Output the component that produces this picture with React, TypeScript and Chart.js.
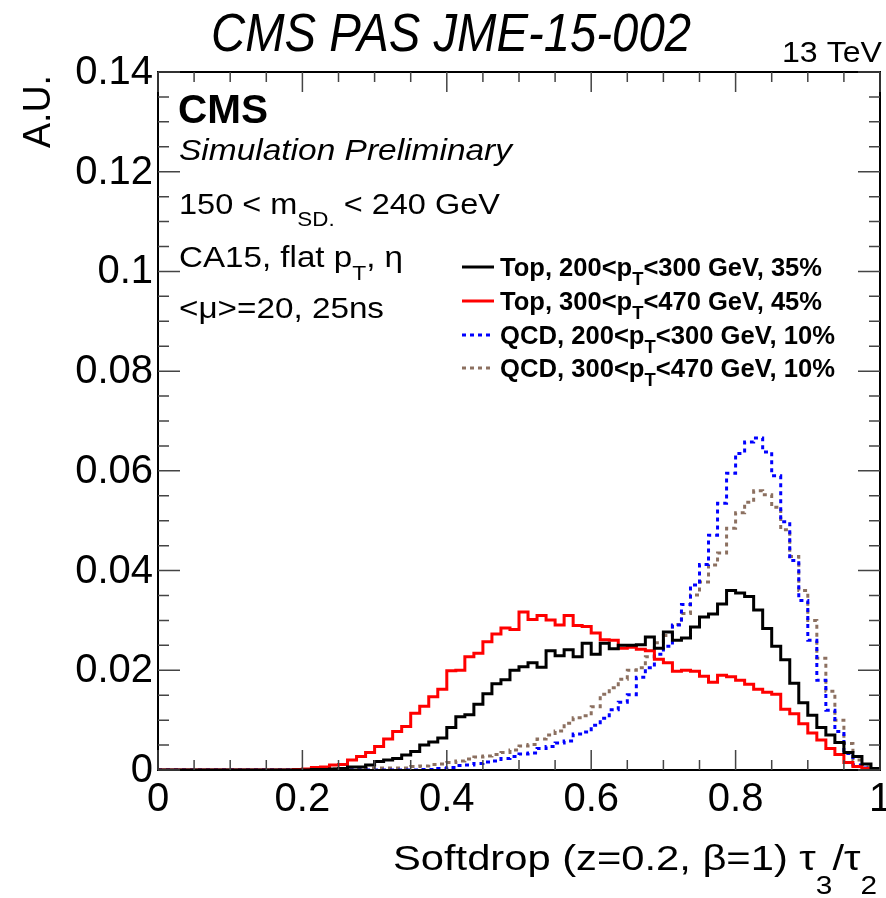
import React, { useEffect, useRef } from 'react';
import { Chart, registerables } from 'chart.js';

Chart.register(...registerables);

// 80 bins of width 0.0125 on [0, 1]
const BIN_WIDTH = 0.0125;

const topLowPt = [
  0, 0, 0, 0, 0, 0, 0, 0, 0, 0,
  0, 0, 0, 0, 0, 0, 0, 0.0001, 0.0001, 0.0002,
  0.0003, 0.0006, 0.0006, 0.001, 0.0017, 0.002, 0.0023, 0.003, 0.0037, 0.005,
  0.0056, 0.0064, 0.0085, 0.0107, 0.0111, 0.0132, 0.0153, 0.0173, 0.0181, 0.02,
  0.0207, 0.0215, 0.0206, 0.0239, 0.0229, 0.0241, 0.0227, 0.0254, 0.0232, 0.0254,
  0.0243, 0.025, 0.025, 0.0251, 0.0267, 0.0244, 0.0277, 0.026, 0.0265, 0.0287,
  0.0307, 0.0313, 0.0333, 0.036, 0.0355, 0.0348, 0.0321, 0.0284, 0.0248, 0.0221,
  0.0174, 0.0135, 0.011, 0.0085, 0.007, 0.0055, 0.0035, 0.0027, 0.0012, 0.0003,
];

const topHighPt = [
  0, 0, 0, 0, 0, 0, 0, 0, 0, 0,
  0, 0, 0, 0, 0, 0.0001, 0.0002, 0.0005, 0.0006, 0.001,
  0.0011, 0.002, 0.0027, 0.0035, 0.0047, 0.0062, 0.0077, 0.0087, 0.0114, 0.0128,
  0.0147, 0.0162, 0.0199, 0.02, 0.0227, 0.0234, 0.0257, 0.0273, 0.0285, 0.0282,
  0.0317, 0.0302, 0.031, 0.0301, 0.0291, 0.031, 0.029, 0.0288, 0.0275, 0.0261,
  0.026, 0.0244, 0.0246, 0.0242, 0.0239, 0.0222, 0.0215, 0.0198, 0.02, 0.0198,
  0.0188, 0.0176, 0.019, 0.0187, 0.018, 0.0172, 0.0162, 0.0156, 0.0152, 0.0122,
  0.0113, 0.0093, 0.0074, 0.006, 0.0043, 0.0031, 0.0015, 0.0007, 0.0003, 0.0002,
];

const qcdLowPt = [
  0, 0, 0, 0, 0, 0, 0, 0, 0, 0,
  0, 0, 0, 0, 0, 0, 0, 0, 0, 0,
  0, 0, 0, 0, 0, 0, 0, 0, 0, 0.0001,
  0.0001, 0.0003, 0.0005, 0.0009, 0.001, 0.0013, 0.0016, 0.0018, 0.0023, 0.0027,
  0.0032, 0.0034, 0.0043, 0.0047, 0.0054, 0.0058, 0.0072, 0.0076, 0.009, 0.0104,
  0.0121, 0.0136, 0.0151, 0.0186, 0.0205, 0.0232, 0.0248, 0.0291, 0.0332, 0.0371,
  0.0412, 0.0471, 0.0535, 0.0595, 0.0635, 0.0658, 0.0666, 0.0638, 0.059, 0.0498,
  0.042, 0.034, 0.026, 0.018, 0.012, 0.0077, 0.0033, 0.001, 0.0004, 0.0002,
];

const qcdHighPt = [
  0, 0, 0, 0, 0, 0, 0, 0, 0, 0,
  0, 0, 0, 0, 0, 0, 0, 0.0002, 0.0002, 0.0002,
  0.0002, 0.0002, 0.0002, 0.0004, 0.0004, 0.0004, 0.0004, 0.0004, 0.0007, 0.0008,
  0.0011, 0.0012, 0.0015, 0.0018, 0.0022, 0.0026, 0.0028, 0.0031, 0.0035, 0.004,
  0.0048, 0.0051, 0.0062, 0.007, 0.0078, 0.0094, 0.0105, 0.0109, 0.0127, 0.0152,
  0.0165, 0.0182, 0.02, 0.0205, 0.0227, 0.0255, 0.027, 0.0292, 0.0314, 0.0351,
  0.0377, 0.0411, 0.0435, 0.0485, 0.0516, 0.0537, 0.056, 0.0552, 0.0527, 0.0482,
  0.0428, 0.036, 0.03, 0.0224, 0.0158, 0.01, 0.0053, 0.002, 0.0006, 0.0003,
];

const xTickValues = [0, 0.2, 0.4, 0.6, 0.8, 1];
const xTickLabels = ['0', '0.2', '0.4', '0.6', '0.8', '1'];
const yTickValues = [0, 0.02, 0.04, 0.06, 0.08, 0.1, 0.12, 0.14];
const yTickLabels = ['0', '0.02', '0.04', '0.06', '0.08', '0.1', '0.12', '0.14'];

type Seg = { t: string; sub?: boolean };
const seriesLabels: Seg[][] = [
  [{ t: 'Top, 200<p' }, { t: 'T', sub: true }, { t: '<300 GeV, 35%' }],
  [{ t: 'Top, 300<p' }, { t: 'T', sub: true }, { t: '<470 GeV, 45%' }],
  [{ t: 'QCD, 200<p' }, { t: 'T', sub: true }, { t: '<300 GeV, 10%' }],
  [{ t: 'QCD, 300<p' }, { t: 'T', sub: true }, { t: '<470 GeV, 10%' }],
];
const seriesColors = ['#000000', '#ff0000', '#0000ff', '#8c7060'];
const seriesDash: number[][] = [[], [], [4, 4], [4, 4]];

const FONT = "'Liberation Sans', Arial, Helvetica, sans-serif";

function histPoints(values: number[]) {
  const pts: { x: number; y: number }[] = [];
  values.forEach((v, j) => {
    pts.push({ x: j * BIN_WIDTH, y: v });
    pts.push({ x: (j + 1) * BIN_WIDTH, y: v });
  });
  return pts;
}

function drawRich(
  ctx: CanvasRenderingContext2D,
  segs: Seg[],
  x: number,
  y: number,
  o: { size: number; weight?: string; style?: string; subScale?: number; subDrop?: number; width?: number; align?: 'left' | 'right' | 'center' }
) {
  const subScale = o.subScale ?? 0.7;
  const subDrop = o.subDrop ?? o.size * 0.3;
  const fontFor = (sub?: boolean) =>
    `${o.style || 'normal'} ${o.weight || 'normal'} ${Math.round(sub ? o.size * subScale : o.size)}px ${FONT}`;
  let total = 0;
  const widths = segs.map((s) => {
    ctx.font = fontFor(s.sub);
    const w = ctx.measureText(s.t).width;
    total += w;
    return w;
  });
  const sx = o.width ? o.width / total : 1;
  const drawnW = total * sx;
  let startX = x;
  if (o.align === 'right') startX = x - drawnW;
  else if (o.align === 'center') startX = x - drawnW / 2;
  ctx.save();
  ctx.translate(startX, y);
  ctx.scale(sx, 1);
  ctx.textBaseline = 'alphabetic';
  ctx.textAlign = 'left';
  let cx = 0;
  segs.forEach((s, i) => {
    ctx.font = fontFor(s.sub);
    ctx.fillText(s.t, cx, s.sub ? subDrop : 0);
    cx += widths[i];
  });
  ctx.restore();
}

const decorPlugin = {
  id: 'cmsDecor',
  afterDraw(chart: any) {
    const ctx: CanvasRenderingContext2D = chart.ctx;
    const xs = chart.scales.x;
    const ys = chart.scales.y;
    const { left, right, top, bottom } = chart.chartArea;
    ctx.save();
    ctx.fillStyle = '#000';
    ctx.strokeStyle = '#000';

    // frame
    ctx.lineWidth = 2;
    ctx.strokeRect(left, top, right - left, bottom - top);

    // x ticks (bottom and top), inward
    ctx.lineWidth = 1.5;
    ctx.strokeStyle = '#444';
    for (let k = 0; k <= 20; k++) {
      const v = k * 0.05;
      const px = xs.getPixelForValue(v);
      const len = k % 4 === 0 ? 20 : 10;
      ctx.beginPath();
      ctx.moveTo(px, bottom);
      ctx.lineTo(px, bottom - len);
      ctx.moveTo(px, top);
      ctx.lineTo(px, top + len);
      ctx.stroke();
    }
    // y ticks (left and right)
    for (let k = 0; k <= 28; k++) {
      const v = k * 0.005;
      const py = ys.getPixelForValue(v);
      const len = k % 4 === 0 ? 22 : 11;
      ctx.beginPath();
      ctx.moveTo(left, py);
      ctx.lineTo(left + len, py);
      ctx.moveTo(right, py);
      ctx.lineTo(right - len, py);
      ctx.stroke();
    }

    // tick labels
    ctx.fillStyle = '#000';
    ctx.font = `40px ${FONT}`;
    ctx.textAlign = 'center';
    ctx.textBaseline = 'alphabetic';
    xTickValues.forEach((v, i) => {
      ctx.fillText(xTickLabels[i], xs.getPixelForValue(v), bottom + 41);
    });
    ctx.textAlign = 'right';
    ctx.textBaseline = 'middle';
    yTickValues.forEach((v, i) => {
      ctx.fillText(yTickLabels[i], left - 5, ys.getPixelForValue(v) + 1);
    });

    // axis titles
    drawRich(
      ctx,
      [{ t: 'Softdrop (z=0.2, \u03b2=1) \u03c4' }, { t: '3', sub: true }, { t: '/\u03c4' }, { t: '2', sub: true }],
      right - 3,
      870,
      { size: 35, align: 'right', width: 484, subScale: 0.72, subDrop: 24 }
    );
    ctx.save();
    ctx.translate(50, top + 3);
    ctx.rotate(-Math.PI / 2);
    drawRich(ctx, [{ t: 'A.U.' }], 0, 0, { size: 38, align: 'right', width: 73 });
    ctx.restore();

    // title and energy
    drawRich(ctx, [{ t: 'CMS PAS JME-15-002' }], 451, 51, { size: 54, style: 'italic', align: 'center', width: 480 });
    drawRich(ctx, [{ t: '13 TeV' }], 882, 62, { size: 30, align: 'right', width: 100 });

    // CMS labels
    drawRich(ctx, [{ t: 'CMS' }], 178, 123, { size: 40, weight: 'bold', width: 90 });
    drawRich(ctx, [{ t: 'Simulation Preliminary' }], 179, 160, { size: 29, style: 'italic', width: 333 });
    drawRich(
      ctx,
      [{ t: '150 < m' }, { t: 'SD.', sub: true }, { t: ' < 240 GeV' }],
      179,
      214,
      { size: 29, width: 321, subScale: 0.68, subDrop: 12 }
    );
    drawRich(
      ctx,
      [{ t: 'CA15, flat p' }, { t: 'T', sub: true }, { t: ', \u03b7' }],
      179,
      267,
      { size: 29, width: 224, subScale: 0.68, subDrop: 13 }
    );
    drawRich(ctx, [{ t: '<\u03bc>=20, 25ns' }], 179, 318, { size: 29, width: 205 });

    // legend
    const rowY = [267, 301, 335, 368];
    const rowW = [322, 322, 335, 335];
    seriesLabels.forEach((segs, i) => {
      ctx.save();
      ctx.strokeStyle = seriesColors[i];
      ctx.lineWidth = 3;
      ctx.setLineDash(seriesDash[i]);
      ctx.beginPath();
      ctx.moveTo(462, rowY[i]);
      ctx.lineTo(494, rowY[i]);
      ctx.stroke();
      ctx.restore();
      ctx.fillStyle = '#000';
      drawRich(ctx, segs, 500, rowY[i] + 9, { size: 25, weight: 'bold', width: rowW[i], subScale: 0.7, subDrop: 9 });
    });

    ctx.restore();
  },
};

export default function App() {
  const ref = useRef<HTMLCanvasElement | null>(null);
  useEffect(() => {
    if (!ref.current) return;
    const series = [topLowPt, topHighPt, qcdLowPt, qcdHighPt];
    const chart = new Chart(ref.current, {
      type: 'line',
      data: {
        datasets: series.map((vals, i) => ({
          label: seriesLabels[i].map((s) => s.t).join(''),
          data: histPoints(vals),
          borderColor: seriesColors[i],
          borderWidth: 3,
          borderDash: seriesDash[i],
          pointRadius: 0,
          tension: 0,
          fill: false,
          borderJoinStyle: 'miter' as const,
        })),
      },
      options: {
        responsive: false,
        maintainAspectRatio: false,
        devicePixelRatio: 1,
        animation: false,
        layout: { padding: { left: 158, right: 6, top: 72, bottom: 128 } },
        scales: {
          x: { type: 'linear', min: 0, max: 1, display: false },
          y: { type: 'linear', min: 0, max: 0.14, display: false },
        },
        plugins: {
          legend: { display: false },
          tooltip: { enabled: false },
          title: { display: false },
        },
      },
      plugins: [decorPlugin],
    });
    return () => chart.destroy();
  }, []);
  return (
    <div style={{ position: 'fixed', left: 0, top: 0, width: 886, height: 898, background: '#fff' }}>
      <canvas ref={ref} width={886} height={898} style={{ display: 'block', width: 886, height: 898 }} />
    </div>
  );
}
